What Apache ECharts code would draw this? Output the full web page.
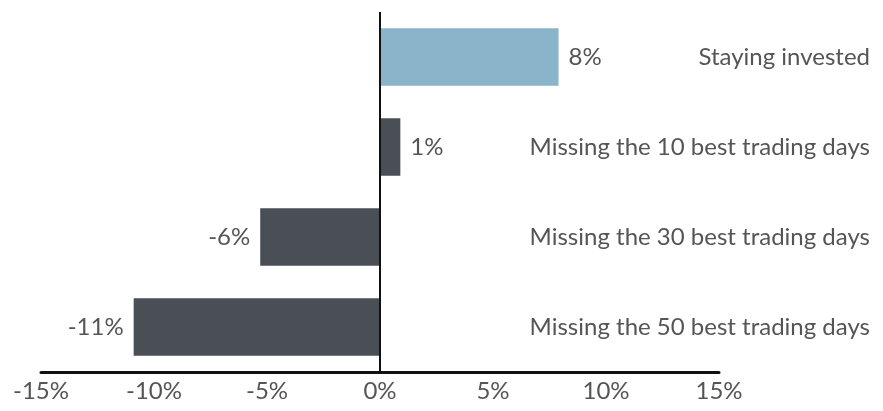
<!DOCTYPE html>
<html>
<head>
<meta charset="utf-8">
<script src="https://cdn.jsdelivr.net/npm/echarts@6/dist/echarts.min.js"></script>
<style>
	html, body { margin: 0; padding: 0; background: #fff; }
	#chart { width: 883px; height: 411px; }
</style>
</head>
<body>
<div id="chart"></div>
<script>
// top to bottom
const categories = ['Staying invested', 'Missing the 10 best trading days', 'Missing the 30 best trading days', 'Missing the 50 best trading days']
const returns = [7.9, 0.9, -5.3, -10.9]
const valueLabels = ['8%', '1%', '-6%', '-11%']
const barColors = ['#8ab4c9', '#4a4e55', '#4a4e55', '#4a4e55']
const xTicks = { min: -15, max: 15, step: 5 }

const chart = echarts.init(document.getElementById('chart'))
const font = 'Lato'
const textColor = '#555'

const option = {
	animation: false,
	grid: {
		left: 41,
		right: 164,
		top: 12,
		bottom: 39
	},
	xAxis: {
		type: 'value',
		min: xTicks.min,
		max: xTicks.max,
		interval: xTicks.step,
		splitLine: { show: false },
		axisTick: { show: false },
		axisLine: { show: true, onZero: false, lineStyle: { color: '#111', width: 3 } },
		axisLabel: {
			formatter: '{value}%',
			color: textColor,
			fontFamily: font,
			fontSize: 24,
			margin: 7
		}
	},
	yAxis: {
		type: 'category',
		data: categories,
		inverse: true,
		position: 'right',
		axisLine: { show: false },
		axisTick: { show: false },
		splitLine: { show: false },
		axisLabel: {
			align: 'right',
			margin: 151,
			color: textColor,
			fontFamily: font,
			fontSize: 24
		}
	},
	series: [{
		type: 'bar',
		data: returns.map((v, i) => ({
			value: v,
			itemStyle: { color: barColors[i] },
			label: { position: v >= 0 ? 'right' : 'left' }
		})),
		barCategoryGap: '36%',
		label: {
			show: true,
			distance: 10,
			color: textColor,
			fontFamily: font,
			fontSize: 24,
			formatter: p => valueLabels[p.dataIndex]
		},
		markLine: {
			silent: true,
			symbol: 'none',
			label: { show: false },
			lineStyle: { color: '#111', width: 2, type: 'solid' },
			data: [{ xAxis: 0 }]
		}
	}]
}

chart.setOption(option)
</script>
</body>
</html>
